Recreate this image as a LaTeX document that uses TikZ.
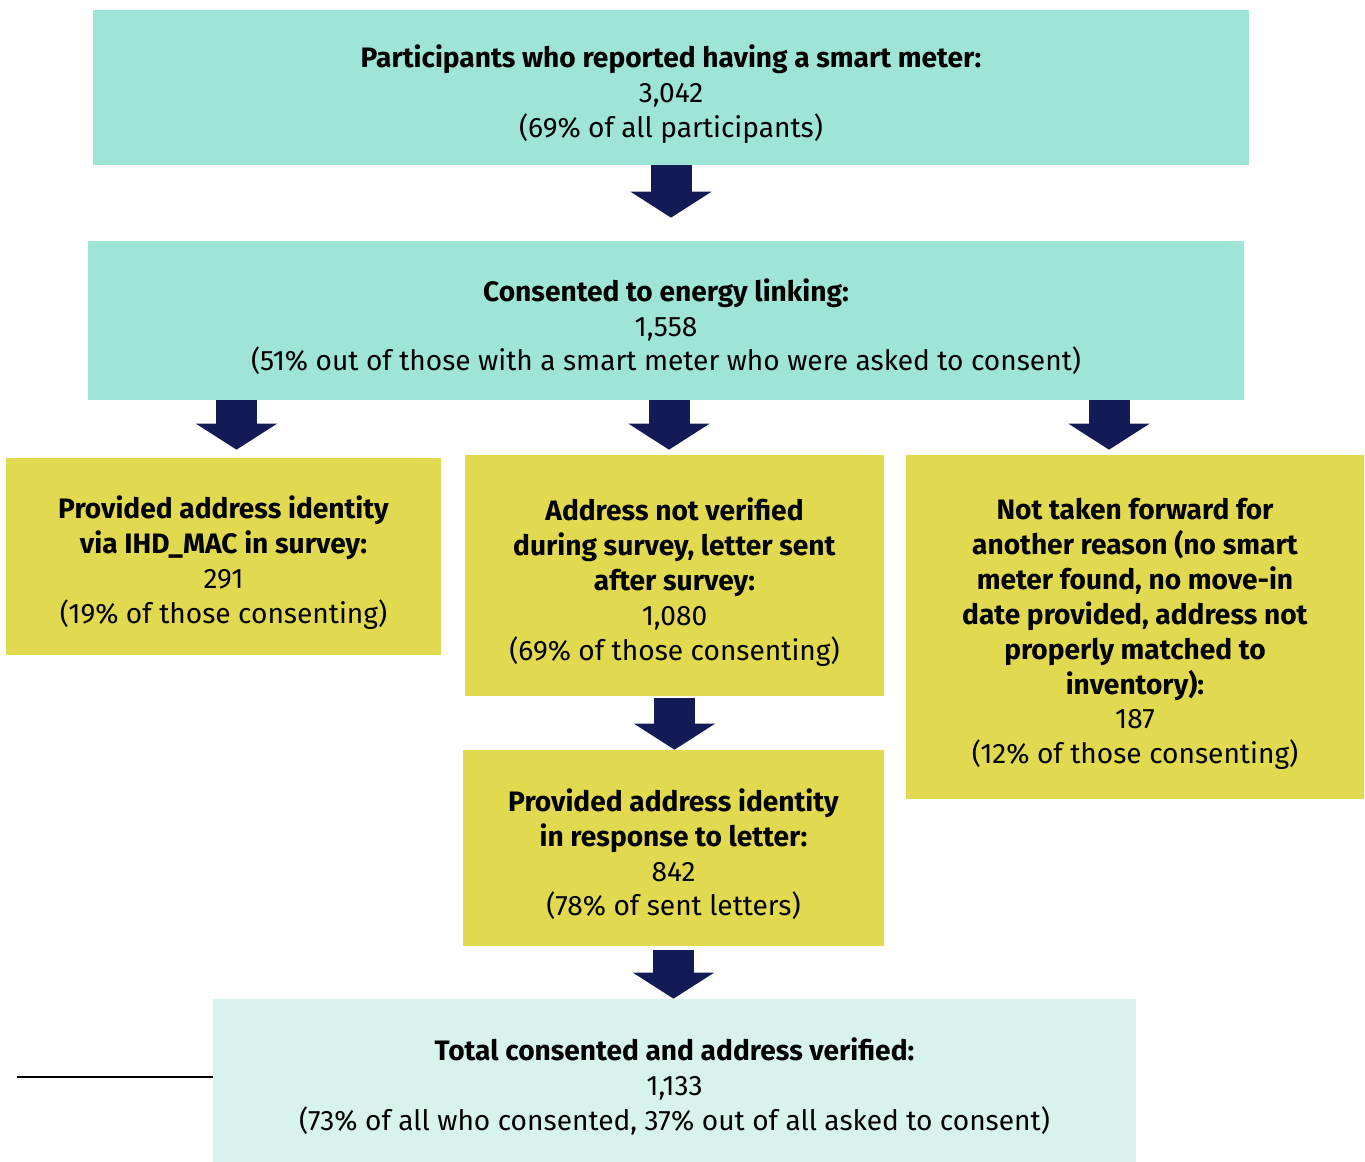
\documentclass[tikz,border=0pt]{standalone}
\usepackage{fontspec}
\setmainfont{Fira Sans}
\usetikzlibrary{arrows.meta,positioning}
\definecolor{mint}{HTML}{9EE5D8}
\definecolor{palemint}{HTML}{D8F3EE}
\definecolor{mustard}{HTML}{E1DA50}
\definecolor{navy}{HTML}{131B56}
\newcommand{\boxhead}[1]{\rule{0pt}{20pt}\textbf{#1}}
\tikzset{
  box/.style={fill=#1, align=center, inner sep=0pt, font=\fontsize{16}{19.9}\selectfont},
  blockarrow/.style={navy, line width=0.82cm, -{Triangle[width=1.6cm,length=0.52cm]}},
}

\begin{document}
\begin{tikzpicture}[x=0.02cm,y=-0.02cm]
\useasboundingbox (0,0) rectangle (1365,1162);

% boxes
\node[box=mint, minimum width=23.12cm, minimum height=3.1cm] (smart) at (671,87.5)
  {\boxhead{Participants who reported having a smart meter:}\\3,042\\(69\% of all participants)};
\node[box=mint, minimum width=23.12cm, minimum height=3.18cm] (consent) at (666,320.5)
  {\boxhead{Consented to energy linking:}\\1,558\\(51\% out of those with a smart meter who were asked to consent)};
\node[box=mustard, minimum width=8.7cm, minimum height=3.94cm] (survey) at (223.5,556.5)
  {\boxhead{Provided address identity}\\\textbf{via IHD\_MAC in survey:}\\291\\(19\% of those consenting)};
\node[box=mustard, minimum width=8.38cm, minimum height=4.82cm] (letter) at (674.5,575.5)
  {\boxhead{Address not verified}\\\textbf{during survey, letter sent}\\\textbf{after survey:}\\1,080\\(69\% of those consenting)};
\node[box=mustard, minimum width=9.16cm, minimum height=6.88cm] (other) at (1135,627)
  {\boxhead{Not taken forward for}\\\textbf{another reason (no smart}\\\textbf{meter found, no move-in}\\\textbf{date provided, address not}\\\textbf{properly matched to}\\\textbf{inventory):}\\187\\(12\% of those consenting)};
\node[box=mustard, minimum width=8.42cm, minimum height=3.92cm] (reply) at (673.5,848)
  {\boxhead{Provided address identity}\\\textbf{in response to letter:}\\842\\(78\% of sent letters)};
\node[box=palemint, minimum width=18.46cm, minimum height=3.26cm] (total) at (674.5,1080.5)
  {\boxhead{Total consented and address verified:}\\1,133\\(73\% of all who consented, 37\% out of all asked to consent)};

% arrows
\draw[blockarrow, shorten >=0.46cm] (smart.south) -- (smart.south |- consent.north);
\draw[blockarrow, shorten >=0.16cm] ([xshift=0.26cm]survey.north |- consent.south) -- ([xshift=0.26cm]survey.north);
\draw[blockarrow, shorten >=0.1cm] ([xshift=-0.11cm]letter.north |- consent.south) -- ([xshift=-0.11cm]letter.north);
\draw[blockarrow, shorten >=0.1cm] ([xshift=-0.52cm]other.north |- consent.south) -- ([xshift=-0.52cm]other.north);
\draw[blockarrow, shorten <=0.04cm] (letter.south) -- (letter.south |- reply.north);
\draw[blockarrow, shorten <=0.08cm] (reply.south) -- (reply.south |- total.north);

% stub line
\coordinate (stub) at (17,1077);
\draw[line width=1.2pt] (stub) -- (stub -| total.west);
\end{tikzpicture}
\end{document}
